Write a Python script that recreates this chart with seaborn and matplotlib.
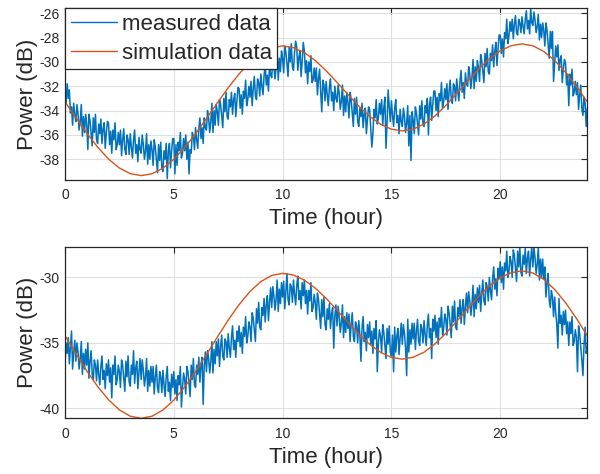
import numpy as np
import pandas as pd
import matplotlib
matplotlib.use("Agg")
import matplotlib.pyplot as plt
import seaborn as sns

# ---------------- data ----------------
hours_measured = np.round(np.arange(481) * 0.05, 2)
hours_sim = np.arange(49) * 0.5

top_measured = [
    -32.1, -33.4, -31.8, -33.0, -32.3, -34.2, -33.7, -35.2, -33.4, -34.4,
    -34.9, -33.5, -34.3, -35.6, -34.9, -33.5, -36.1, -34.5, -35.8, -34.3,
    -35.1, -37.2, -34.3, -34.8, -35.8, -36.9, -34.6, -35.8, -34.3, -36.4,
    -36.7, -35.1, -35.9, -34.7, -36.7, -35.5, -35.0, -37.1, -35.8, -34.9,
    -35.0, -36.8, -35.7, -37.5, -35.6, -36.4, -35.0, -37.2, -36.8, -35.8,
    -36.8, -35.6, -37.7, -36.4, -35.5, -37.2, -37.6, -36.0, -36.4, -37.6,
    -35.9, -37.0, -37.9, -36.4, -35.6, -37.5, -36.8, -38.2, -36.2, -37.2,
    -37.5, -36.0, -36.8, -38.0, -37.3, -35.9, -38.4, -36.8, -38.0, -36.5,
    -37.2, -38.5, -36.4, -37.0, -38.0, -39.1, -36.8, -38.1, -36.6, -38.7,
    -39.0, -37.3, -38.0, -36.7, -39.6, -37.3, -36.7, -38.7, -37.3, -36.3,
    -36.3, -39.2, -36.8, -38.5, -36.6, -37.3, -35.8, -37.9, -37.5, -36.3,
    -37.3, -36.0, -38.0, -36.6, -39.2, -37.2, -37.5, -35.8, -36.1, -37.2,
    -35.4, -36.4, -37.1, -35.5, -34.6, -36.3, -35.4, -36.7, -34.6, -35.4,
    -35.6, -34.0, -34.6, -35.8, -34.9, -33.4, -35.8, -34.0, -35.2, -33.5,
    -34.1, -35.2, -33.1, -33.5, -34.4, -35.4, -33.0, -34.1, -32.5, -34.5,
    -34.7, -33.1, -33.7, -32.5, -34.3, -33.1, -32.6, -34.5, -33.2, -32.1,
    -32.2, -33.8, -32.7, -34.3, -32.4, -33.0, -31.5, -33.6, -33.1, -32.0,
    -32.9, -31.6, -33.6, -32.2, -31.2, -32.8, -33.1, -31.4, -31.7, -32.8,
    -31.0, -32.0, -32.7, -31.1, -30.2, -31.9, -31.1, -32.4, -30.3, -31.1,
    -31.3, -29.7, -30.3, -31.4, -30.5, -29.1, -31.5, -29.7, -30.8, -29.1,
    -29.7, -30.9, -28.7, -29.2, -30.2, -31.2, -28.8, -30.0, -28.5, -30.4,
    -30.7, -29.2, -28.3, -28.8, -30.7, -29.6, -29.1, -31.2, -29.9, -28.4,
    -29.1, -30.9, -29.9, -31.8, -30.0, -30.8, -29.5, -31.7, -31.5, -30.5,
    -31.6, -30.5, -32.7, -31.4, -30.6, -32.5, -34.1, -31.5, -31.9, -33.2,
    -31.6, -32.7, -33.6, -32.1, -31.4, -33.2, -32.5, -34.0, -32.0, -33.0,
    -33.3, -31.9, -32.6, -33.9, -33.2, -31.9, -34.4, -32.8, -34.1, -32.5,
    -33.3, -34.6, -32.5, -33.1, -34.2, -35.3, -33.0, -34.3, -32.9, -34.9,
    -35.3, -33.8, -34.5, -33.4, -35.4, -34.3, -33.8, -35.9, -34.7, -33.7,
    -33.9, -35.5, -37.0, -35.9, -33.9, -34.6, -33.1, -35.1, -34.6, -33.4,
    -34.3, -33.1, -35.2, -33.8, -32.9, -37.1, -35.0, -32.3, -33.7, -34.9,
    -33.2, -34.4, -35.3, -33.8, -33.1, -35.0, -34.4, -35.9, -33.9, -34.9,
    -35.3, -33.8, -34.5, -35.8, -35.0, -33.6, -36.9, -34.4, -38.1, -34.1,
    -34.8, -35.9, -33.7, -34.2, -35.1, -36.0, -33.6, -34.7, -33.2, -35.1,
    -35.3, -33.6, -34.2, -33.0, -36.0, -33.5, -32.9, -34.8, -33.5, -32.4,
    -32.4, -34.0, -32.9, -34.5, -32.6, -33.2, -31.7, -33.8, -33.3, -32.2,
    -33.1, -31.8, -33.9, -32.4, -31.5, -33.1, -33.4, -31.8, -32.0, -33.2,
    -31.4, -32.4, -33.2, -31.6, -30.7, -32.5, -31.7, -33.0, -30.9, -31.8,
    -32.0, -30.4, -31.0, -32.2, -31.3, -29.8, -32.2, -30.4, -31.6, -29.9,
    -30.5, -31.6, -29.4, -29.9, -30.8, -31.7, -29.3, -30.4, -28.9, -30.8,
    -31.0, -29.3, -29.9, -28.6, -30.4, -29.1, -28.4, -30.3, -28.9, -27.8,
    -27.8, -29.3, -28.1, -29.6, -27.6, -28.1, -26.5, -28.5, -27.9, -26.7,
    -27.5, -26.5, -28.1, -26.9, -26.2, -27.6, -27.8, -26.5, -26.8, -27.6,
    -26.3, -27.1, -27.7, -26.5, -25.8, -27.3, -26.6, -27.7, -25.6, -26.8,
    -27.0, -25.9, -26.6, -27.6, -27.1, -26.1, -28.2, -26.9, -28.0, -26.8,
    -27.4, -28.7, -26.8, -27.4, -28.6, -29.7, -27.5, -28.9, -27.5, -31.6,
    -30.1, -28.7, -29.6, -28.6, -30.7, -29.8, -29.5, -31.7, -30.6, -29.8,
    -30.1, -31.9, -31.0, -33.6, -31.0, -31.9, -30.6, -32.8, -32.5, -31.6,
    -32.7, -31.7, -33.9, -32.7, -31.9, -33.8, -34.4, -32.9, -33.4, -35.3,
    -33.8,
]

bottom_measured = [
    -36.6, -35.0, -35.8, -34.6, -36.6, -35.4, -34.1, -37.0, -35.7, -34.8,
    -36.4, -35.0, -35.7, -37.0, -36.2, -34.9, -37.4, -35.8, -37.0, -35.5,
    -36.7, -35.0, -37.7, -36.4, -35.6, -37.4, -37.8, -36.3, -36.7, -37.9,
    -36.3, -37.4, -38.2, -36.8, -36.0, -37.8, -37.1, -38.5, -36.6, -37.5,
    -36.3, -38.0, -36.9, -39.2, -36.7, -37.4, -36.0, -38.2, -37.8, -36.7,
    -37.2, -38.4, -36.3, -36.7, -37.7, -38.7, -36.4, -37.6, -36.0, -38.0,
    -38.3, -36.7, -37.4, -35.6, -38.1, -36.9, -36.4, -38.5, -37.2, -36.2,
    -37.8, -36.3, -37.1, -38.3, -37.6, -36.2, -38.7, -37.1, -38.3, -36.8,
    -38.0, -36.8, -38.9, -37.6, -36.7, -38.4, -38.8, -37.2, -37.6, -38.8,
    -37.1, -38.2, -39.1, -37.6, -36.8, -38.7, -38.0, -39.4, -37.4, -38.4,
    -37.2, -38.9, -37.8, -39.4, -37.5, -38.2, -36.8, -39.9, -38.4, -37.3,
    -37.8, -38.9, -36.8, -37.2, -38.1, -39.1, -36.7, -37.8, -36.2, -38.2,
    -38.4, -36.7, -37.4, -36.1, -38.0, -36.7, -36.1, -39.7, -36.7, -35.7,
    -37.2, -35.6, -36.2, -37.3, -36.4, -34.9, -37.3, -35.5, -36.6, -34.9,
    -36.0, -34.7, -36.8, -35.3, -34.4, -36.0, -36.3, -34.7, -34.9, -36.1,
    -34.3, -35.4, -36.1, -34.6, -33.7, -35.5, -34.8, -36.1, -34.1, -34.9,
    -33.7, -35.3, -34.2, -35.8, -33.8, -34.5, -33.0, -35.0, -34.5, -33.4,
    -33.8, -34.9, -32.7, -33.1, -34.0, -34.9, -32.4, -33.5, -31.9, -33.8,
    -34.0, -32.3, -32.9, -31.6, -33.4, -32.1, -31.4, -33.3, -31.9, -30.8,
    -32.3, -30.7, -31.4, -32.5, -31.7, -30.2, -32.6, -30.9, -32.0, -30.4,
    -31.5, -30.3, -32.4, -31.0, -29.7, -31.7, -32.1, -30.5, -30.7, -31.9,
    -30.2, -31.3, -32.1, -30.6, -29.9, -31.7, -31.0, -32.4, -30.4, -31.4,
    -30.2, -32.0, -31.0, -32.8, -31.0, -31.8, -30.4, -32.6, -32.3, -31.3,
    -31.9, -33.2, -31.2, -31.7, -32.8, -33.9, -31.7, -33.0, -31.5, -33.6,
    -34.0, -32.4, -33.2, -32.0, -33.9, -32.8, -32.3, -35.4, -33.0, -32.1,
    -33.7, -32.2, -33.0, -34.2, -33.5, -32.1, -34.6, -33.0, -34.2, -32.7,
    -33.9, -32.8, -34.9, -33.6, -32.7, -34.5, -34.9, -33.4, -33.7, -35.0,
    -33.3, -34.4, -36.4, -33.8, -33.0, -34.9, -34.2, -35.6, -33.6, -34.6,
    -33.4, -35.1, -34.1, -35.8, -33.9, -34.7, -33.3, -37.2, -35.0, -34.0,
    -34.5, -35.7, -33.6, -34.2, -35.2, -36.2, -33.9, -35.1, -33.7, -35.7,
    -36.0, -34.4, -37.2, -33.8, -35.7, -34.5, -33.9, -35.9, -34.6, -33.5,
    -35.1, -33.6, -34.3, -35.4, -37.5, -33.2, -35.7, -34.0, -35.1, -33.5,
    -34.7, -33.5, -35.5, -34.1, -33.2, -34.9, -35.2, -33.6, -33.9, -35.0,
    -33.3, -34.4, -35.2, -33.6, -32.8, -34.6, -33.9, -36.2, -33.2, -34.1,
    -32.9, -34.6, -33.4, -35.1, -33.1, -33.8, -32.3, -34.4, -33.9, -32.8,
    -33.2, -34.4, -32.2, -32.7, -33.6, -34.6, -32.2, -33.4, -31.8, -33.8,
    -34.0, -32.3, -33.0, -31.7, -33.5, -32.3, -31.7, -33.6, -32.2, -31.2,
    -32.7, -31.1, -31.8, -32.9, -32.1, -30.6, -33.0, -31.3, -32.4, -30.8,
    -31.9, -30.6, -32.6, -31.2, -30.2, -31.8, -32.1, -30.4, -30.7, -31.8,
    -30.0, -31.0, -31.7, -30.1, -29.2, -30.9, -30.1, -31.4, -29.3, -30.1,
    -28.8, -30.4, -29.2, -30.9, -28.9, -29.5, -28.0, -30.0, -29.6, -28.4,
    -28.8, -30.0, -27.9, -28.3, -29.3, -30.3, -28.0, -29.2, -27.7, -29.6,
    -29.9, -28.3, -29.0, -27.8, -29.7, -28.5, -28.0, -29.9, -28.6, -27.7,
    -29.2, -27.7, -28.5, -29.7, -29.0, -27.7, -30.2, -28.6, -30.0, -28.6,
    -30.1, -29.2, -31.5, -30.4, -29.7, -31.7, -32.3, -31.0, -31.5, -33.0,
    -31.5, -32.7, -33.6, -35.4, -31.6, -33.5, -32.9, -34.4, -32.6, -33.6,
    -32.5, -34.3, -33.4, -35.2, -33.4, -34.3, -33.0, -35.2, -34.9, -34.0,
    -34.6, -37.2, -33.7, -34.3, -35.3, -36.3, -37.5, -35.2, -33.8, -35.8,
    -35.3,
]

top_sim = [
    -33.28, -34.58, -35.85, -37.00, -37.98, -38.72, -39.18, -39.34, -39.19,
    -38.73, -38.00, -37.04, -35.90, -34.66, -33.37, -32.13, -30.99, -30.03,
    -29.30, -28.85, -28.69, -28.83, -29.24, -29.89, -30.73, -31.68, -32.68,
    -33.63, -34.47, -35.12, -35.53, -35.67, -35.53, -35.10, -34.44, -33.58,
    -32.60, -31.59, -30.61, -29.75, -29.09, -28.67, -28.52, -28.68, -29.14,
    -29.88, -30.86, -32.01, -33.28,
]

bottom_sim = [
    -34.45, -35.81, -37.13, -38.33, -39.34, -40.12, -40.60, -40.76, -40.60,
    -40.13, -39.37, -38.37, -37.19, -35.89, -34.56, -33.26, -32.08, -31.08,
    -30.32, -29.85, -29.69, -29.82, -30.21, -30.82, -31.60, -32.50, -33.43,
    -34.33, -35.11, -35.72, -36.11, -36.24, -36.10, -35.71, -35.08, -34.27,
    -33.35, -32.39, -31.47, -30.66, -30.04, -29.64, -29.50, -29.66, -30.15,
    -30.92, -31.93, -33.13, -34.45,
]

x_ticks = [0, 5, 10, 15, 20]
top_yticks = [-38, -36, -34, -32, -30, -28, -26]
bottom_yticks = [-40, -35, -30]
legend_labels = ["measured data", "simulation data"]
x_label = "Time (hour)"
y_label = "Power (dB)"

# ---------------- style ----------------
sns.set_theme(style="white")
plt.rcParams["font.family"] = ["Liberation Sans", "DejaVu Sans"]
plt.rcParams["axes.unicode_minus"] = False

BLUE = "#0072BD"
ORANGE = "#D95319"
DARK = "#262626"
GRID = "#DFDFDF"

fig = plt.figure(figsize=(6.0, 4.74), dpi=100)
ax_top = fig.add_axes([0.1083, 0.6203, 0.8705, 0.3622])
ax_bot = fig.add_axes([0.1083, 0.1175, 0.8705, 0.3608])

panels = [
    (ax_top, top_measured, top_sim, top_yticks, (-39.7, -25.6), True),
    (ax_bot, bottom_measured, bottom_sim, bottom_yticks, (-40.76, -27.7), False),
]

for ax, meas, sim, yt, ylim, show_legend in panels:
    df_m = pd.DataFrame({"t": hours_measured, "p": meas})
    df_s = pd.DataFrame({"t": hours_sim, "p": sim})
    sns.lineplot(data=df_m, x="t", y="p", ax=ax, color=BLUE, lw=1.1,
                 estimator=None, sort=False, label=legend_labels[0])
    sns.lineplot(data=df_s, x="t", y="p", ax=ax, color=ORANGE, lw=1.0,
                 estimator=None, sort=False, label=legend_labels[1])
    ax.set_xlim(0, 24)
    ax.set_ylim(*ylim)
    ax.set_xticks(x_ticks)
    ax.set_yticks(yt)
    ax.grid(True, color=GRID, lw=0.8)
    ax.set_axisbelow(True)
    for s in ax.spines.values():
        s.set_color(DARK)
        s.set_linewidth(0.9)
        s.set_visible(True)
    ax.tick_params(axis="both", direction="in", length=4, width=0.8,
                   colors=DARK, labelsize=10, top=True, right=True,
                   labeltop=False, labelright=False)
    ax.tick_params(axis="x", pad=6)
    ax.tick_params(axis="y", pad=4)
    ax.set_xlabel(x_label, fontsize=16, color=DARK)
    ax.set_ylabel(y_label, fontsize=16, color=DARK)
    ax.xaxis.set_label_coords(0.5, -0.165)
    ax.yaxis.set_label_coords(-0.052, 0.5)
    if show_legend:
        leg = ax.legend(loc="upper left", fontsize=16, frameon=True,
                        fancybox=False, framealpha=1, edgecolor=DARK,
                        borderaxespad=0, borderpad=0.25, labelspacing=0.35,
                        handlelength=2.1, handletextpad=0.2)
        leg.get_frame().set_linewidth(0.9)
        for h in leg.get_lines():
            h.set_linewidth(1.0)
    else:
        leg = ax.get_legend()
        if leg is not None:
            leg.remove()

fig.savefig("out.png", dpi=100)
